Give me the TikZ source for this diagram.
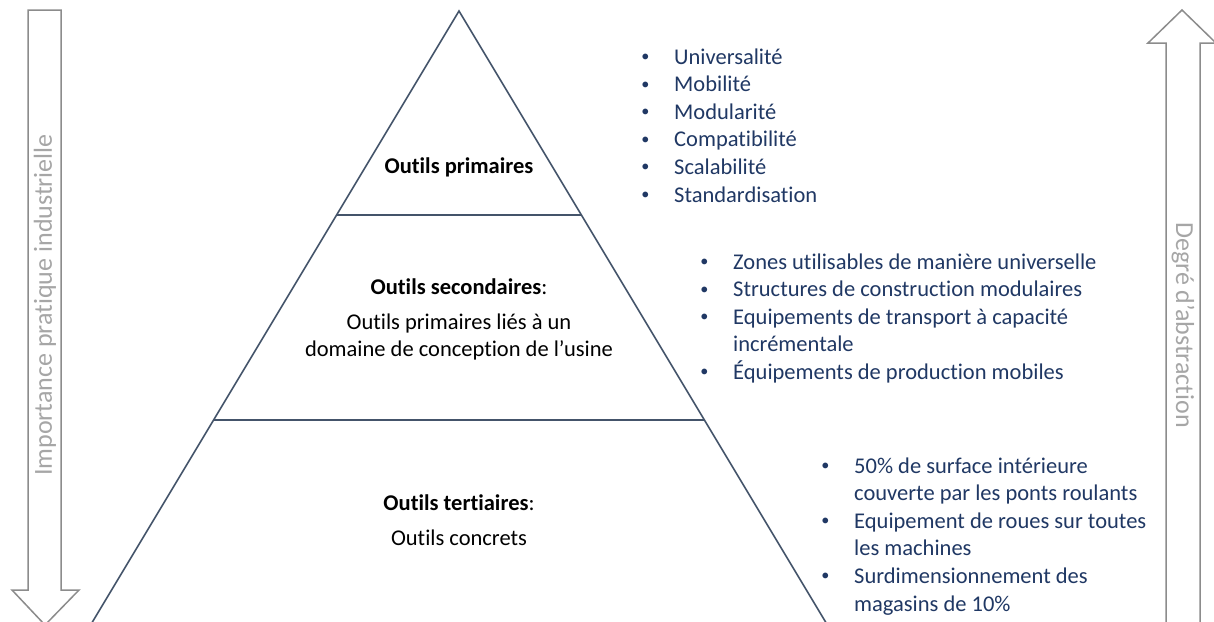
\documentclass[tikz,border=0pt]{standalone}
\usepackage{graphicx}
\usepackage{fontspec}
\setmainfont{Carlito}[Ligatures={TeX,NoCommon}]
\definecolor{navy}{HTML}{203864}
\definecolor{slate}{HTML}{44546A}
\definecolor{arrowgray}{HTML}{8C8C8C}
\definecolor{labelgray}{HTML}{A6A6A6}
\newcommand{\pyrbullet}{\makebox[34pt][l]{\hspace{1.2pt}\raisebox{2.6pt}{\scalebox{0.72}{•}}}}
\begin{document}
\begin{tikzpicture}[x=1pt,y=-1pt,
  pyr/.style={draw=slate, line width=1.6pt},
  divider/.style={draw=slate, line width=2.4pt},
  bigarrow/.style={draw=arrowgray, line width=1.5pt, fill=white, line join=miter},
  level/.style={font=\fontsize{22.5}{27.6}\selectfont, text=black, inner sep=0pt, anchor=base},
  list/.style={font=\fontsize{22.5}{27.6}\selectfont, text=navy, inner sep=0pt, anchor=base west},
  axislabel/.style={font=\fontsize{26}{30}\selectfont, text=labelgray, inner sep=0pt}
]
\useasboundingbox (0,0) rectangle (1214,621);
\clip (0,0) rectangle (1214,621);
\fill[white] (0,0) rectangle (1214,621);

% side arrows
\draw[bigarrow] (28,10) -- (61,10) -- (61,590) -- (79,590) -- (45,625) -- (12,590) -- (28,590) -- cycle;
\draw[bigarrow] (1166,640) -- (1166,43) -- (1148,43) -- (1182,10) -- (1216,43) -- (1200,43) -- (1200,640) -- cycle;
\node[axislabel, rotate=90] (imp) at (45,305) {Importance pratique industrielle};
\node[axislabel, rotate=-90] (abs) at (1183,325) {Degré d{\char"0027}abstraction};

% pyramid
\coordinate (apex) at (459,11);
\coordinate (bl) at (81.6,640);
\coordinate (br) at (836.4,640);
\draw[pyr, line join=miter] (bl) -- (apex) -- (br);
\coordinate (d1l) at (336.6,215);
\coordinate (d1r) at (581.4,215);
\coordinate (d2l) at (213.6,420);
\coordinate (d2r) at (704.4,420);
\draw[divider] (d1l) -- (d1r);
\draw[divider] (d2l) -- (d2r);

% level texts
\node[level] (prim) at (459,173) {\textbf{Outils primaires}};
\node[level] (secT) at (459,294) {\textbf{Outils secondaires}:};
\node[level] (sec1) at (459,329) {Outils primaires liés à un};
\node[level] (sec2) at (459,356) {domaine de conception de l’usine};
\node[level] (terT) at (459,510) {\textbf{Outils tertiaires}:};
\node[level] (ter1) at (459,545) {Outils concrets};

% lists
\node[list] (list1) at (640,64) {\begin{tabular}[t]{@{}l@{}l@{}}
\pyrbullet & Universalité\\
\pyrbullet & Mobilité\\
\pyrbullet & Modularité\\
\pyrbullet & Compatibilité\\
\pyrbullet & Scalabilité\\
\pyrbullet & Standardisation
\end{tabular}};
\node[list] (list2) at (699,269) {\begin{tabular}[t]{@{}l@{}l@{}}
\pyrbullet & Zones utilisables de manière universelle\\
\pyrbullet & Structures de construction modulaires\\
\pyrbullet & Equipements de transport à capacité\\
 & incrémentale\\
\pyrbullet & Équipements de production mobiles
\end{tabular}};
\node[list] (list3) at (820,473) {\begin{tabular}[t]{@{}l@{}l@{}}
\pyrbullet & 50\% de surface intérieure\\
 & couverte par les ponts roulants\\
\pyrbullet & Equipement de roues sur toutes\\
 & les machines\\
\pyrbullet & Surdimensionnement des\\
 & magasins de 10\%
\end{tabular}};
\end{tikzpicture}
\end{document}
